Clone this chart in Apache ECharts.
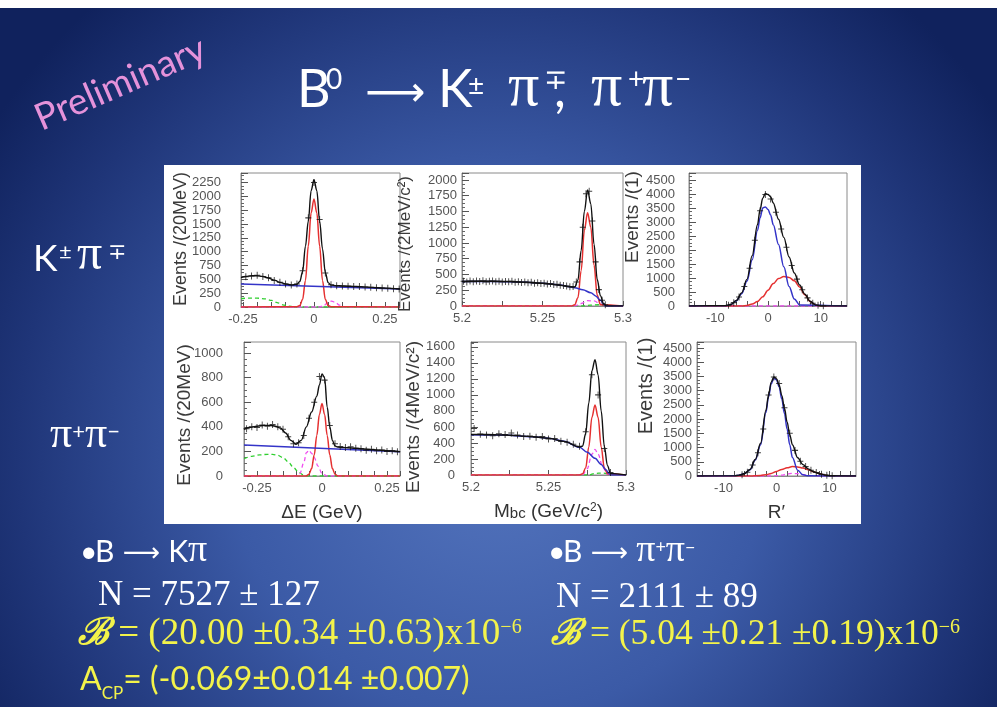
<!DOCTYPE html>
<html>
<head>
<meta charset="utf-8">
<script src="https://cdn.jsdelivr.net/npm/echarts@6/dist/echarts.min.js"></script>
<style>
  html, body { margin: 0; padding: 0; background: #fff; }
  #chart { width: 997px; height: 707px; }
</style>
</head>
<body>
<div id="chart"></div>
<script>
// ---------- B0 -> K pi : Delta E ----------
const kpiDeX      = [-0.257,-0.24,-0.22,-0.2,-0.18,-0.16,-0.14,-0.12,-0.1,-0.08,-0.06,-0.05,-0.04,-0.03,-0.02,-0.01,0,0.01,0.02,0.03,0.04,0.05,0.06,0.08,0.1,0.15,0.2,0.25,0.303];
const kpiDeTotal  = [530,550,565,565,550,525,485,445,415,400,410,460,640,1100,1550,2100,2300,2100,1550,1050,620,440,395,385,380,370,355,340,325];
const kpiDeBkgX   = [-0.257,0.303];
const kpiDeBkg    = [415,325];
const kpiDeSigX   = [-0.257,-0.06,-0.05,-0.04,-0.03,-0.02,-0.01,0,0.01,0.02,0.03,0.04,0.05,0.06,0.303];
const kpiDeSig    = [0,5,25,140,480,1100,1700,1950,1700,1100,480,140,25,5,0];
const kpiDeGreenX = [-0.257,-0.23,-0.2,-0.17,-0.15,-0.13,-0.11,-0.09,-0.07,-0.05,0.303];
const kpiDeGreen  = [150,162,160,145,120,80,40,15,4,0,0];
const kpiDeMagX   = [-0.257,0.02,0.035,0.05,0.062,0.075,0.09,0.105,0.303];
const kpiDeMag    = [0,0,30,85,105,85,35,5,0];
const kpiDeBins   = { first: -0.24, width: 0.02 };
const kpiDeCounts = [545,560,572,552,528,478,447,416,398,415,655,1610,2250,1580,615,402,386,381,376,371,368,360,356,349,343,337,331,326];

// ---------- B0 -> K pi : Mbc ----------
const kpiMbcX      = [5.2,5.21,5.22,5.23,5.24,5.25,5.26,5.265,5.27,5.272,5.274,5.276,5.278,5.28,5.282,5.284,5.286,5.288,5.29,5.3];
const kpiMbcTotal  = [390,392,392,388,378,360,333,312,300,410,880,1500,1840,1620,980,420,160,35,0,0];
const kpiMbcBkgX   = [5.2,5.22,5.24,5.25,5.26,5.27,5.275,5.28,5.283,5.286,5.288,5.289,5.3];
const kpiMbcBkg    = [388,390,378,360,335,290,258,210,160,90,35,0,0];
const kpiMbcSigX   = [5.2,5.268,5.27,5.272,5.274,5.276,5.278,5.28,5.282,5.284,5.286,5.3];
const kpiMbcSig    = [0,0,20,130,560,1200,1480,1250,650,170,20,0];
const kpiMbcMagX   = [5.2,5.27,5.274,5.278,5.282,5.286,5.29,5.3];
const kpiMbcMag    = [0,0,40,85,80,30,0,0];
const kpiMbcGreenX = [5.2,5.275,5.28,5.285,5.29,5.3];
const kpiMbcGreen  = [0,0,15,20,8,0];
const kpiMbcBins   = { first: 5.201, width: 0.002 };
const kpiMbcCounts = [392,380,398,385,395,388,400,383,392,396,386,394,380,390,384,392,378,386,372,380,368,376,362,370,356,362,350,356,340,345,330,325,318,305,310,380,700,1250,1780,1820,1350,700,260,90,20];

// ---------- B0 -> K pi : R' ----------
const kpiRX      = [-15,-8,-7,-6,-5,-4,-3,-2,-1.5,-1,-0.5,0,0.5,1,2,3,4,5,6,7,8,9,10,15];
const kpiRTotal  = [0,10,60,200,470,950,1800,2900,3450,3850,4020,3980,3900,3680,3100,2450,1750,1180,750,420,170,40,5,0];
const kpiRBkgX   = [-15,-8,-7,-6,-5,-4,-3,-2,-1.5,-1,-0.5,0,0.5,1,2,3,4,5,6,15];
const kpiRBkg    = [0,10,55,190,440,880,1650,2700,3150,3500,3540,3450,3250,2900,2200,1400,700,250,40,0];
const kpiRSigX   = [-15,-5,-4,-3,-2,-1,0,1,2,3,4,5,6,7,8,9,10,15];
const kpiRSig    = [0,0,20,70,160,330,560,800,980,1050,1020,900,680,400,160,40,5,0];
const kpiRMagX   = [-15,15];
const kpiRMag    = [0,0];
const kpiRBins   = { first: -7.5, width: 1 };
const kpiRCounts = [30,120,320,700,1350,2350,3400,3980,3820,3350,2750,2100,1450,960,580,290,100,25,5];

// ---------- B0 -> pi pi : Delta E ----------
const pipiDeX      = [-0.3,-0.28,-0.25,-0.22,-0.2,-0.18,-0.16,-0.14,-0.12,-0.1,-0.08,-0.06,-0.04,-0.02,-0.01,0,0.01,0.02,0.03,0.04,0.05,0.06,0.08,0.1,0.15,0.2,0.25,0.3];
const pipiDeTotal  = [380,395,405,412,412,405,390,350,290,258,290,400,520,650,740,830,800,560,400,290,245,235,232,230,222,213,205,198];
const pipiDeBkgX   = [-0.3,0.3];
const pipiDeBkg    = [252,198];
const pipiDeSigX   = [-0.3,-0.06,-0.05,-0.04,-0.03,-0.02,-0.01,0,0.01,0.02,0.03,0.04,0.05,0.06,0.3];
const pipiDeSig    = [0,0,15,60,170,330,500,590,500,330,170,60,15,0,0];
const pipiDeGreenX = [-0.3,-0.27,-0.24,-0.21,-0.19,-0.17,-0.15,-0.13,-0.11,-0.09,-0.07,-0.05,0.3];
const pipiDeGreen  = [140,160,172,176,176,168,150,115,70,30,8,0,0];
const pipiDeMagX   = [-0.3,-0.1,-0.085,-0.07,-0.06,-0.05,-0.04,-0.03,-0.015,0,0.02,0.3];
const pipiDeMag    = [0,0,20,110,190,210,185,150,80,20,0,0];
const pipiDeBins   = { first: -0.29, width: 0.02 };
const pipiDeCounts = [385,400,395,415,405,418,400,380,320,262,270,330,470,600,810,780,410,262,240,232,238,225,222,210,218,205,212,200,205,198];

// ---------- B0 -> pi pi : Mbc ----------
const pipiMbcX      = [5.2,5.21,5.22,5.23,5.24,5.25,5.26,5.27,5.272,5.274,5.276,5.278,5.28,5.282,5.284,5.286,5.288,5.29,5.3];
const pipiMbcTotal  = [505,505,500,492,478,458,420,350,360,520,900,1300,1440,1250,800,360,120,20,0];
const pipiMbcBkgX   = [5.2,5.22,5.24,5.25,5.26,5.27,5.275,5.28,5.284,5.287,5.289,5.29,5.3];
const pipiMbcBkg    = [502,498,478,458,420,345,285,208,130,65,20,0,0];
const pipiMbcSigX   = [5.2,5.27,5.272,5.274,5.276,5.278,5.28,5.282,5.284,5.286,5.288,5.3];
const pipiMbcSig    = [0,0,15,90,350,720,875,720,350,90,15,0];
const pipiMbcMagX   = [5.2,5.272,5.275,5.278,5.28,5.282,5.285,5.288,5.3];
const pipiMbcMag    = [0,0,80,260,320,260,100,10,0];
const pipiMbcGreenX = [5.2,5.276,5.28,5.285,5.29,5.3];
const pipiMbcGreen  = [0,0,20,25,10,0];
const pipiMbcBins   = { first: 5.202, width: 0.004 };
const pipiMbcCounts = [580,510,500,490,515,505,525,500,480,485,470,480,450,455,420,410,385,360,540,1250,1000,330,30];

// ---------- B0 -> pi pi : R' ----------
const pipiRX      = [-15,-8,-7,-6,-5,-4,-3,-2,-1.5,-1,-0.5,0,0.5,1,1.5,2,2.5,3,4,5,6,7,8,9,10,15];
const pipiRTotal  = [0,5,30,90,230,580,1150,2300,2850,3300,3480,3420,3200,2830,2380,1900,1450,1100,640,400,250,150,90,40,10,0];
const pipiRBkgX   = [-15,-8,-7,-6,-5,-4,-3,-2,-1.5,-1,-0.5,0,0.5,1,1.5,2,2.5,3,4,5,6,15];
const pipiRBkg    = [0,5,30,90,220,560,1100,2230,2780,3240,3440,3380,3130,2700,2200,1650,1100,650,200,40,5,0];
const pipiRSigX   = [-15,-5,-3,-2,-1,0,1,2,3,4,5,6,7,8,9,10,15];
const pipiRSig    = [0,0,20,45,90,160,230,290,330,320,280,220,150,85,35,10,0];
const pipiRMagX   = [-15,-1,0,1,2,3,4,5,6,7,15];
const pipiRMag    = [0,0,10,30,70,90,80,50,20,5,0];
const pipiRBins   = { first: -6.5, width: 1 };
const pipiRCounts = [40,130,390,820,1650,2850,3480,3250,2400,1500,900,520,330,200,120,60,25,8];

// ---------- axis labels and ticks ----------
const deXLabels   = [-0.25, 0, 0.25];
const deXTicks    = [-0.25,-0.2,-0.15,-0.1,-0.05,0,0.05,0.1,0.15,0.2,0.25,0.3];
const mbcXLabels  = [5.2, 5.25, 5.3];
const mbcXTicks   = [5.2,5.225,5.25,5.275,5.3];
const rXLabels    = [-10, 0, 10];
const rXTicks     = [-14,-12,-10,-8,-6,-4,-2,0,2,4,6,8,10,12,14];
const kpiDeYLabels  = [0,250,500,750,1000,1250,1500,1750,2000,2250];
const kpiMbcYLabels = [0,250,500,750,1000,1250,1500,1750,2000];
const rYLabels      = [0,500,1000,1500,2000,2500,3000,3500,4000,4500];
const pipiDeYLabels = [0,200,400,600,800,1000];
const pipiMbcYLabels= [0,200,400,600,800,1000,1200,1400,1600];

const yTitles = ['Events /(20MeV)','Events /(2MeV/c\u00B2)','Events /(1)','Events /(20MeV)','Events /(4MeV/c\u00B2)','Events /(1)'];

// ---------- helpers ----------
const zip = (xs, ys) => xs.map((x, i) => [x, ys[i]]);
const binned = (b, counts) => counts.map((c, i) => [+(b.first + i * b.width).toFixed(4), c]);

const SANS = 'Lato, "Open Sans", sans-serif';
const SERIF = '"Liberation Serif", "DejaVu Serif", serif';
const AXIS_FONT = '"Liberation Sans", Arial, sans-serif';
const NARROW = '"Liberation Sans Narrow", "Liberation Sans", sans-serif';

// panel layout (pixels) and axis settings
const panels = [
  { box: [241,173,159,134], x: [-0.257,0.303], y: [2420,250], xl: deXLabels,  xt: deXTicks,  yl: kpiDeYLabels,  ym: 20,
    d: [kpiDeBins,kpiDeCounts], tot: [kpiDeX,kpiDeTotal], bkg: [kpiDeBkgX,kpiDeBkg], sig: [kpiDeSigX,kpiDeSig], grn: [kpiDeGreenX,kpiDeGreen], mag: [kpiDeMagX,kpiDeMag],
    yt: [181,239,18] },
  { box: [462,173,161,133], x: [5.2,5.3], y: [2110,250], xl: mbcXLabels, xt: mbcXTicks, yl: kpiMbcYLabels, ym: 5,
    d: [kpiMbcBins,kpiMbcCounts], tot: [kpiMbcX,kpiMbcTotal], bkg: [kpiMbcBkgX,kpiMbcBkg], sig: [kpiMbcSigX,kpiMbcSig], grn: [kpiMbcGreenX,kpiMbcGreen], mag: [kpiMbcMagX,kpiMbcMag],
    yt: [405,244,17] },
  { box: [689,173,158,133], x: [-15,15], y: [4750,500], xl: rXLabels, xt: rXTicks, yl: rYLabels, ym: 14,
    d: [kpiRBins,kpiRCounts], tot: [kpiRX,kpiRTotal], bkg: [kpiRBkgX,kpiRBkg], sig: [kpiRSigX,kpiRSig], grn: null, mag: [kpiRMagX,kpiRMag],
    yt: [633,217,19] },
  { box: [244,342,156,134], x: [-0.3,0.3], y: [1090,200], xl: deXLabels, xt: deXTicks, yl: pipiDeYLabels, ym: 21,
    d: [pipiDeBins,pipiDeCounts], tot: [pipiDeX,pipiDeTotal], bkg: [pipiDeBkgX,pipiDeBkg], sig: [pipiDeSigX,pipiDeSig], grn: [pipiDeGreenX,pipiDeGreen], mag: [pipiDeMagX,pipiDeMag],
    yt: [185,415,19], xname: '\u0394E (GeV)' },
  { box: [471,342,155,133], x: [5.2,5.3], y: [1660,200], xl: mbcXLabels, xt: mbcXTicks, yl: pipiMbcYLabels, ym: 16,
    d: [pipiMbcBins,pipiMbcCounts], tot: [pipiMbcX,pipiMbcTotal], bkg: [pipiMbcBkgX,pipiMbcBkg], sig: [pipiMbcSigX,pipiMbcSig], grn: [pipiMbcGreenX,pipiMbcGreen], mag: [pipiMbcMagX,pipiMbcMag],
    yt: [414,417,19], xname: 'M{sub|bc} (GeV/c{sup|2})' },
  { box: [697,342,159,134], x: [-15,15], y: [4710,500], xl: rXLabels, xt: rXTicks, yl: rYLabels, ym: 5,
    d: [pipiRBins,pipiRCounts], tot: [pipiRX,pipiRTotal], bkg: [pipiRBkgX,pipiRBkg], sig: [pipiRSigX,pipiRSig], grn: null, mag: [pipiRMagX,pipiRMag],
    yt: [646,386,20], xname: 'R\u2032' }
];

const grids = [], xAxes = [], yAxes = [], series = [];
const CROSS = 'path://M0,3.4h8v1.2h-8z M3.4,0h1.2v8h-1.2z';

function curve(i, pair, color, dashed, width) {
  return {
    type: 'line', xAxisIndex: i, yAxisIndex: i, data: zip(pair[0], pair[1]),
    showSymbol: false, symbol: 'none', smooth: 0.35, smoothMonotone: 'x',
    lineStyle: { color, width, type: dashed ? [4, 3] : 'solid' },
    silent: true, z: 3
  };
}

panels.forEach((p, i) => {
  grids.push({ left: p.box[0], top: p.box[1], width: p.box[2], height: p.box[3],
               show: true, borderColor: '#8a8a8a', borderWidth: 1, backgroundColor: 'transparent' });
  const xa = {
    type: 'value', gridIndex: i, min: p.x[0], max: p.x[1],
    axisLine: { show: true, onZero: false, lineStyle: { color: '#8a8a8a', width: 1 } },
    axisTick: { show: true, inside: true, length: 5, customValues: p.xt, lineStyle: { color: '#555' } },
    axisLabel: { customValues: p.xl, formatter: v => String(v), fontFamily: AXIS_FONT, fontSize: 13, color: '#555', margin: 6 },
    splitLine: { show: false }
  };
  if (p.xname) {
    Object.assign(xa, {
      name: p.xname, nameLocation: 'middle', nameGap: 27,
      nameTextStyle: { fontFamily: AXIS_FONT, fontSize: 19, color: '#333',
        rich: { sub: { fontFamily: AXIS_FONT, fontSize: 15, color: '#333', verticalAlign: 'bottom', lineHeight: 14 },
                sup: { fontFamily: AXIS_FONT, fontSize: 12, color: '#333', verticalAlign: 'top', lineHeight: 12 } } }
    });
  }
  xAxes.push(xa);
  yAxes.push({
    type: 'value', gridIndex: i, min: 0, max: p.y[0], interval: p.y[1],
    axisLine: { show: true, onZero: false, lineStyle: { color: '#8a8a8a', width: 1 } },
    axisTick: { show: true, inside: true, length: 7, lineStyle: { color: '#555' } },
    minorTick: { show: true, splitNumber: 4, length: 3, lineStyle: { color: '#666' } },
    axisLabel: { customValues: p.yl, formatter: v => String(v), fontFamily: NARROW, fontSize: 13, color: '#555', margin: p.ym },
    splitLine: { show: false }
  });
  series.push({
    type: 'scatter', xAxisIndex: i, yAxisIndex: i, data: binned(p.d[0], p.d[1]),
    symbol: CROSS, symbolSize: [6, 7], itemStyle: { color: '#111' }, silent: true, z: 4
  });
  if (p.grn) series.push(curve(i, p.grn, '#2fcf2f', true, 1.3));
  series.push(curve(i, p.mag, '#f04cf0', true, 1.3));
  series.push(curve(i, p.sig, '#e53030', false, 1.5));
  series.push(curve(i, p.bkg, '#3434c8', false, 1.5));
  series.push(curve(i, p.tot, '#111111', false, 1.4));
});

// rotated y titles
const yTitleGraphics = panels.map((p, i) => ({
  type: 'text', x: p.yt[0], y: p.yt[1], rotation: Math.PI / 2, z: 20,
  style: { text: yTitles[i], fontFamily: AXIS_FONT, fontSize: p.yt[2], fill: '#3a3a3a', align: 'center', verticalAlign: 'middle' }
}));

// ---------- slide text ----------
// token styles: a = sans, p = serif, u = superscript, r = arrow, d = subscript, b = script B, ps = serif superscript
// Each line is placed by its baseline; bottom-aligned tokens sit on the line bottom, so the
// sans and serif runs get bottom padding that brings them onto one common baseline.
const W = '#ffffff', Y = '#f3f34a';
function textLine(x, baseline, text, color, o, extra) {
  const lh = Math.round(Math.max(o.sans, o.serif) * 1.15 + 4);
  const offA = o.sans * (0.5 - 0.387), offP = o.serif * (0.5 - 0.3375);
  const off = Math.max(offA, offP) + (o.lift || 0);
  const top = baseline - lh + off;
  const supF = o.sup || 18;
  const supPad = Math.max(0, (baseline - (o.supRaise || 0)) - top - 0.17 * supF);
  const arrowFs = o.arrow || 20;
  const arrowPad = Math.max(0, (baseline - (o.arrowRise || 0)) - top - arrowFs / 2);
  const rich = {
    a: { fontFamily: SANS, fontSize: o.sans, lineHeight: lh, verticalAlign: 'bottom', fill: color, padding: [0, 0, off - offA, 0] },
    p: { fontFamily: SERIF, fontSize: o.serif, lineHeight: lh, verticalAlign: 'bottom', fill: color, padding: [0, 0, off - offP, 0] },
    b: { fontFamily: '"DejaVu Serif", serif', fontStyle: 'italic', fontWeight: 'bold', fontSize: o.serif, lineHeight: lh, verticalAlign: 'bottom', fill: color, padding: [0, 0, off - offP, 0] },
    d: { fontFamily: SANS, fontSize: o.sub || 14, verticalAlign: 'bottom', fill: color },
    u: { fontFamily: SANS, fontSize: supF, verticalAlign: 'top', fill: color, padding: [supPad, 0, 0, 0] },
    ps: { fontFamily: SERIF, fontSize: supF, verticalAlign: 'top', fill: color, padding: [supPad, 0, 0, 0] },
    r: { fontFamily: '"DejaVu Sans", sans-serif', fontSize: arrowFs, lineHeight: arrowFs, verticalAlign: 'top', fill: color, padding: [arrowPad, 0, 0, 0] }
  };
  // numbered variants: fixed widths and per-token superscript drop
  Object.keys(extra || {}).forEach(k => {
    const base = rich[k.replace(/\d+$/, '')];
    const e = Object.assign({}, extra[k]);
    if (e.drop) { e.padding = [base.padding[0] + e.drop, 0, 0, 0]; delete e.drop; }
    rich[k] = Object.assign({}, base, e);
  });
  return { type: 'text', x, y: top, z: 20, style: { text, rich } };
}

const textGraphics = [
  { type: 'text', x: 44, y: 137, rotation: 0.41, z: 20,
    style: { text: 'Preliminary', fontFamily: SANS, fontSize: 37, fill: '#e592da', verticalAlign: 'bottom' } },
  textLine(297, 110, '{a1|B}{u1|0}{r1| \u27F6}{a2|K}{u2|\u00B1}{p1|\u03C0}{u3|\u2213}{a3|,}{p2|\u03C0}{u4|+}{p3|\u03C0}{u|\u2212}', W,
    { sans: 52, serif: 62, sup: 28, supRaise: 39, arrow: 42, arrowRise: 15 },
    { a1: { width: 29 }, u1: { width: 26 }, r1: { width: 86 }, a2: { width: 30 }, u2: { width: 40, drop: 6 },
      p1: { width: 36 }, u3: { width: 10 }, a3: { width: 37 }, p2: { width: 37 }, u4: { width: 14 }, p3: { width: 33 } }),
  textLine(33, 273, '{a1|K}{u1|\u00B1}{p1|\u03C0}{u|\u2213}', W,
    { sans: 37, serif: 50, sup: 22, supRaise: 28 },
    { a1: { width: 26 }, u1: { width: 18 }, p1: { width: 31 } }),
  textLine(50, 450, '{p|\u03C0}{u|+}{p|\u03C0}{u|\u2212}', W,
    { sans: 40, serif: 44, sup: 22, supRaise: 25 }),
  textLine(80, 564, '{a1|\u2022}{a|B}{r| \u27F6 }{a|K}{p|\u03C0}', W,
    { sans: 30, serif: 38, sup: 18, supRaise: 23, arrow: 26, arrowRise: 10 }, { a1: { width: 15 } }),
  textLine(98, 608, '{p|N = 7527 \u00B1 127}', W, { sans: 34, serif: 35 }),
  textLine(78, 647, '{b|\u212C}{p| = (20.00 \u00B10.34 \u00B10.63)x10}{ps|\u22126}', Y,
    { sans: 34, serif: 37, sup: 20, supRaise: 26 }),
  textLine(80, 692, '{a|A}{d|CP}{a|= (-0.069\u00B10.014 \u00B10.007)}', Y, { sans: 32, serif: 32, sub: 17, lift: 5 }),
  textLine(548, 564, '{a1|\u2022}{a|B}{r| \u27F6 }{p|\u03C0}{u|+}{p|\u03C0}{u|\u2212}', W,
    { sans: 30, serif: 38, sup: 18, supRaise: 23, arrow: 26, arrowRise: 10 }, { a1: { width: 15 } }),
  textLine(556, 610, '{p|N = 2111 \u00B1 89}', W, { sans: 34, serif: 35 }),
  textLine(551, 647, '{b|\u212C}{p| = (5.04 \u00B10.21 \u00B10.19)x10}{ps|\u22126}', Y,
    { sans: 34, serif: 35.5, sup: 20, supRaise: 26 })
];

const chart = echarts.init(document.getElementById('chart'), null, { renderer: 'canvas' });
chart.setOption({
  animation: false,
  backgroundColor: '#ffffff',
  grid: grids.map(g => Object.assign({ outerBoundsMode: 'none', containLabel: false }, g)),
  xAxis: xAxes,
  yAxis: yAxes,
  series,
  graphic: [
    { type: 'rect', z: -10, shape: { x: 0, y: 8, width: 997, height: 699 },
      style: { fill: new echarts.graphic.RadialGradient(0.5, 0.63, 0.86, [
        { offset: 0, color: '#5475be' },
        { offset: 0.45, color: '#3b5aa6' },
        { offset: 0.8, color: '#1f3578' },
        { offset: 1, color: '#10225d' }
      ]) } },
    { type: 'rect', z: -5, shape: { x: 164, y: 165, width: 697, height: 359 }, style: { fill: '#ffffff' } },
    ...yTitleGraphics,
    ...textGraphics
  ]
});
</script>
</body>
</html>
